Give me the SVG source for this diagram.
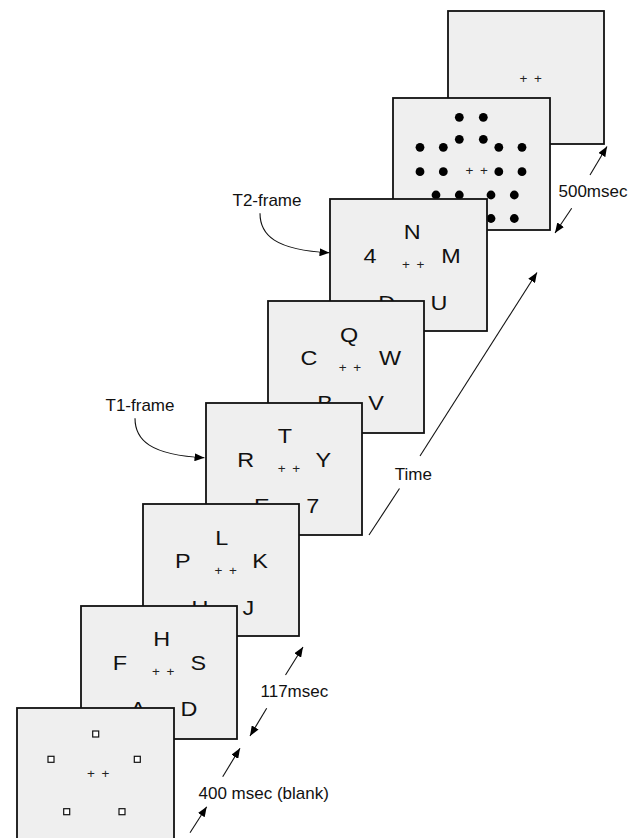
<svg xmlns="http://www.w3.org/2000/svg" width="639" height="838" viewBox="0 0 639 838">
<style>
.fr{fill:#efefef;stroke:#111;stroke-width:1.8}
.lt{font-family:"Liberation Sans",Arial,sans-serif;font-size:20px;fill:#111;text-anchor:middle}
.pp{font-family:"Liberation Sans",Arial,sans-serif;font-size:13.5px;fill:#222;text-anchor:middle;letter-spacing:6.5px}
.lb{font-family:"Liberation Sans",Arial,sans-serif;font-size:17px;fill:#111}
.dot{fill:#000}
.sq{fill:#fff;stroke:#111;stroke-width:1.2}
.cn{fill:none;stroke:#111;stroke-width:1.1}
</style>
<defs>
<marker id="ah" markerUnits="userSpaceOnUse" markerWidth="10" markerHeight="8" refX="10" refY="4" orient="auto">
<path d="M0,0 L10,4 L0,8 z" fill="#000"/>
</marker>
</defs>

<g id="frame8">
<rect class="fr" x="448" y="11" width="156" height="133"/>
<text class="pp" x="534" y="82.5">++</text>
</g>

<g id="frame7">
<rect class="fr" x="393" y="98" width="157" height="132"/>
<circle class="dot" cx="459.3" cy="117.3" r="4.4"/>
<circle class="dot" cx="483.3" cy="117.3" r="4.4"/>
<circle class="dot" cx="459.3" cy="139.3" r="4.4"/>
<circle class="dot" cx="483.3" cy="139.3" r="4.4"/>
<circle class="dot" cx="420" cy="147.3" r="4.4"/>
<circle class="dot" cx="443.3" cy="147.3" r="4.4"/>
<circle class="dot" cx="498.8" cy="147.3" r="4.4"/>
<circle class="dot" cx="522" cy="147.3" r="4.4"/>
<circle class="dot" cx="420" cy="171.7" r="4.4"/>
<circle class="dot" cx="443.3" cy="171.7" r="4.4"/>
<circle class="dot" cx="498.8" cy="171.7" r="4.4"/>
<circle class="dot" cx="522" cy="171.7" r="4.4"/>
<circle class="dot" cx="436" cy="195" r="4.4"/>
<circle class="dot" cx="459.3" cy="195" r="4.4"/>
<circle class="dot" cx="491" cy="195" r="4.4"/>
<circle class="dot" cx="514.3" cy="195" r="4.4"/>
<circle class="dot" cx="436" cy="218.5" r="4.4"/>
<circle class="dot" cx="459.3" cy="218.5" r="4.4"/>
<circle class="dot" cx="491" cy="218.5" r="4.4"/>
<circle class="dot" cx="514.3" cy="218.5" r="4.4"/>
<text class="pp" x="480" y="174.8">++</text>
</g>

<g id="frame6">
<rect class="fr" x="330" y="199" width="157" height="132"/>
<text class="lt" transform="matrix(1.17,0,0,1,412.3,239)">N</text>
<text class="lt" transform="matrix(1.17,0,0,1,370,263.3)">4</text>
<text class="lt" transform="matrix(1.17,0,0,1,451,263.3)">M</text>
<text class="lt" transform="matrix(1.17,0,0,1,386.7,310)">D</text>
<text class="lt" transform="matrix(1.17,0,0,1,439,310)">U</text>
<text class="pp" x="416.5" y="268.8">++</text>
</g>

<g id="frame5">
<rect class="fr" x="268" y="301" width="156" height="132"/>
<text class="lt" transform="matrix(1.17,0,0,1,349,341.7)">Q</text>
<text class="lt" transform="matrix(1.17,0,0,1,309,365)">C</text>
<text class="lt" transform="matrix(1.17,0,0,1,390,365)">W</text>
<text class="lt" transform="matrix(1.17,0,0,1,325,410)">B</text>
<text class="lt" transform="matrix(1.17,0,0,1,376,410)">V</text>
<text class="pp" x="353.2" y="371.5">++</text>
</g>

<g id="frame4">
<rect class="fr" x="206" y="403" width="156" height="132"/>
<text class="lt" transform="matrix(1.17,0,0,1,285,443.3)">T</text>
<text class="lt" transform="matrix(1.17,0,0,1,245.7,466.7)">R</text>
<text class="lt" transform="matrix(1.17,0,0,1,323.3,466.7)">Y</text>
<text class="lt" transform="matrix(1.17,0,0,1,261.7,512.7)">E</text>
<text class="lt" transform="matrix(1.17,0,0,1,312.7,512.7)">7</text>
<text class="pp" x="292.2" y="472.5">++</text>
</g>

<g id="frame3">
<rect class="fr" x="143" y="504" width="156" height="132"/>
<text class="lt" transform="matrix(1.17,0,0,1,221.7,545)">L</text>
<text class="lt" transform="matrix(1.17,0,0,1,182.7,567.7)">P</text>
<text class="lt" transform="matrix(1.17,0,0,1,260,567.7)">K</text>
<text class="lt" transform="matrix(1.17,0,0,1,200,615)">U</text>
<text class="lt" transform="matrix(1.17,0,0,1,248.3,615)">J</text>
<text class="pp" x="228.9" y="574.8">++</text>
</g>

<g id="frame2">
<rect class="fr" x="81" y="606" width="156" height="133"/>
<text class="lt" transform="matrix(1.17,0,0,1,161.7,645.7)">H</text>
<text class="lt" transform="matrix(1.17,0,0,1,120,670)">F</text>
<text class="lt" transform="matrix(1.17,0,0,1,198.3,670)">S</text>
<text class="lt" transform="matrix(1.17,0,0,1,138,716)">A</text>
<text class="lt" transform="matrix(1.17,0,0,1,189,716)">D</text>
<text class="pp" x="166.5" y="675.5">++</text>
</g>

<g id="frame1">
<rect class="fr" x="17" y="708" width="157" height="133"/>
<rect class="sq" x="92.7" y="731" width="6" height="6"/>
<rect class="sq" x="48" y="756.3" width="6" height="6"/>
<rect class="sq" x="134.3" y="756.3" width="6" height="6"/>
<rect class="sq" x="63.7" y="808.7" width="6" height="6"/>
<rect class="sq" x="119" y="808.7" width="6" height="6"/>
<text class="pp" x="101.5" y="778.1">++</text>
</g>

<g id="labels">
<text class="lb" x="105.5" y="410.7">T1-frame</text>
<text class="lb" x="232.5" y="206">T2-frame</text>
<text class="lb" x="394.8" y="480">Time</text>
<text class="lb" x="558.5" y="196.5">500msec</text>
<text class="lb" x="260.5" y="696.5">117msec</text>
<text class="lb" x="198.5" y="799.3">400 msec (blank)</text>
</g>

<g id="connectors">
<path class="cn" d="M135,418.3 C135,440 150,455 204.5,457.8" marker-end="url(#ah)"/>
<path class="cn" d="M260,213.3 C260,235 275,250 329.5,252.8" marker-end="url(#ah)"/>
<line class="cn" x1="369" y1="535" x2="399.5" y2="488.5"/>
<line class="cn" x1="420" y1="456" x2="537" y2="272.5" marker-end="url(#ah)"/>
<line class="cn" x1="590" y1="175" x2="607" y2="146.5" marker-end="url(#ah)"/>
<line class="cn" x1="571.7" y1="208.3" x2="555" y2="233" marker-end="url(#ah)"/>
<line class="cn" x1="285.5" y1="675" x2="303" y2="647" marker-end="url(#ah)"/>
<line class="cn" x1="266.7" y1="708.3" x2="250" y2="736" marker-end="url(#ah)"/>
<line class="cn" x1="222.7" y1="776.7" x2="240" y2="748.3" marker-end="url(#ah)"/>
<line class="cn" x1="190" y1="832.7" x2="206.7" y2="806.7" marker-end="url(#ah)"/>
</g>
</svg>
